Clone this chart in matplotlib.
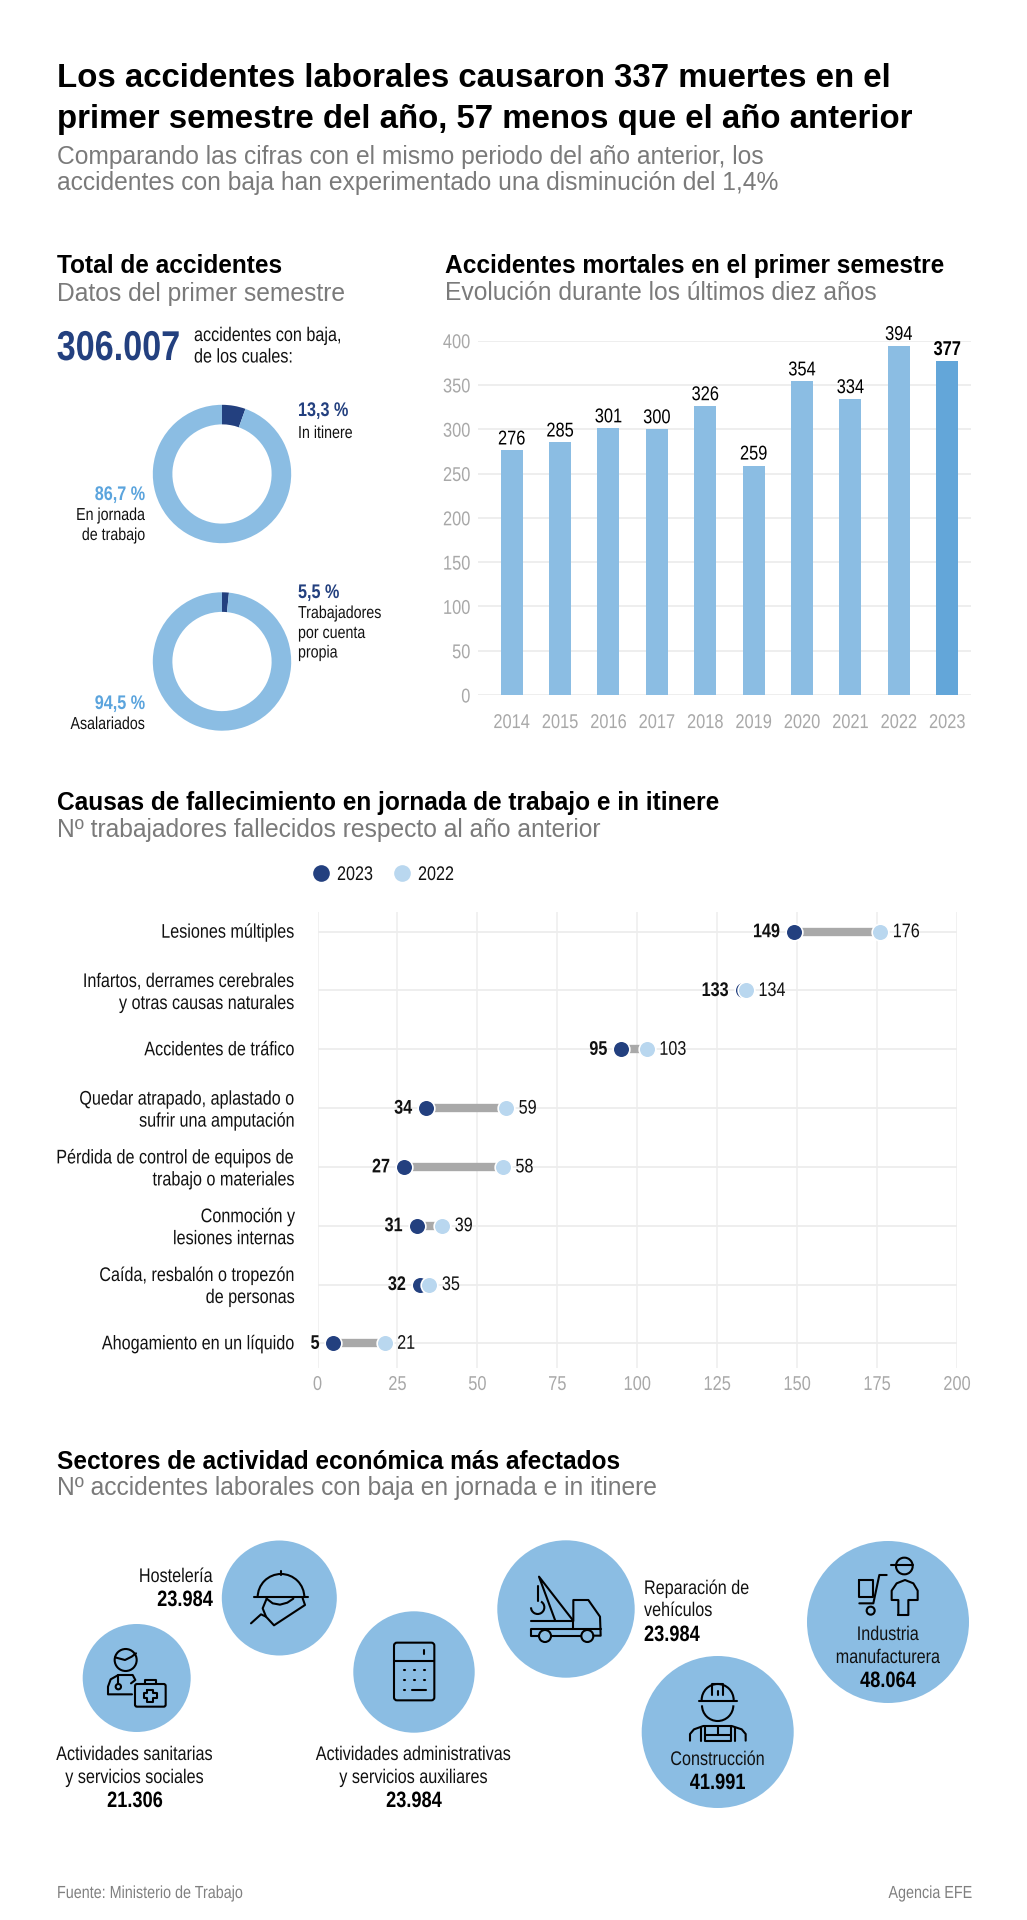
#!/usr/bin/env python3

import numpy as np
import matplotlib
matplotlib.use("Agg")
import matplotlib.pyplot as plt
from matplotlib.patches import Arc, Circle, FancyBboxPatch
from matplotlib.patheffects import AbstractPathEffect
from matplotlib.text import Text
from matplotlib.transforms import Affine2D

W, H = 1027, 1920
DARK = "#23407f"
BLUE = "#8bbde3"
BLUE_STRONG = "#63a6d9"
BLUE_TEXT = "#5ba4dd"
PALE = "#b9d7ef"
GREY_TXT = "#7a7a7a"
TICK = "#a8a8a8"
GRID = "#ededed"
INK = "#111111"
NARROW = 0.82

plt.rcParams["font.family"] = ["Liberation Sans", "DejaVu Sans"]

years = [2014, 2015, 2016, 2017, 2018, 2019, 2020, 2021, 2022, 2023]
fatal = [276, 285, 301, 300, 326, 259, 354, 334, 394, 377]
fatal_ticks = [0, 50, 100, 150, 200, 250, 300, 350, 400]

causes = [
    "Lesiones múltiples",
    "Infartos, derrames cerebrales\ny otras causas naturales",
    "Accidentes de tráfico",
    "Quedar atrapado, aplastado o\nsufrir una amputación",
    "Pérdida de control de equipos de\ntrabajo o materiales",
    "Conmoción y\nlesiones internas",
    "Caída, resbalón o tropezón\nde personas",
    "Ahogamiento en un líquido",
]
deaths_2023 = [149, 133, 95, 34, 27, 31, 32, 5]
deaths_2022 = [176, 134, 103, 59, 58, 39, 35, 21]
deaths_ticks = [0, 25, 50, 75, 100, 125, 150, 175, 200]

# the drawn wedges are narrower than the printed percentages
ring_itinere = [5.5, 94.5]
ring_autonomos = [1.6, 98.4]


class Squeeze(AbstractPathEffect):
    """No Arial Narrow here, so squeeze the glyphs around the text's anchor."""

    def __init__(self, text, sx):
        super().__init__()
        self.text = text
        self.sx = sx

    def draw_path(self, renderer, gc, tpath, affine, rgbFace=None):
        bb = self.text.get_window_extent()
        anchor = {"left": bb.x0, "right": bb.x1, "center": (bb.x0 + bb.x1) / 2}[self.text.get_ha()]
        sq = Affine2D().translate(-anchor, 0).scale(self.sx, 1).translate(anchor, 0)
        renderer.draw_path(gc, tpath, affine + sq, rgbFace)


def px_axes(x0, y0, x1, y1, **kw):
    return fig.add_axes([x0 / W, 1 - y1 / H, (x1 - x0) / W, (y1 - y0) / H], **kw)


def put(x, y, s, size=14.2, color=INK, bold=False, ha="left", gid=None):
    over.text(x, y, s, fontsize=size, color=color, ha=ha, va="baseline",
              fontweight="bold" if bold else "normal", gid=gid)


def head(x, y, s):
    put(x, y, s, size=17.65, color="black", bold=True, gid="wide")


def sub(x, y, s):
    put(x, y, s, size=17.75, color=GREY_TXT, gid="wide")


def ring(cx, cy, r, values):
    ax = px_axes(cx - r, cy - r, cx + r, cy + r)
    ax.pie(values, colors=[DARK, BLUE], startangle=90, counterclock=False, radius=1,
           wedgeprops={"width": 0.283})
    ax.set_xlim(-1, 1)
    ax.set_ylim(-1, 1)


fig = plt.figure(figsize=(W / 100, H / 100), dpi=100, facecolor="white")

over = fig.add_axes([0, 0, 1, 1], zorder=5)
over.set_xlim(0, W)
over.set_ylim(H, 0)
over.axis("off")
over.patch.set_alpha(0)

# Title block
put(57, 87, "Los accidentes laborales causaron 337 muertes en el", size=23.75, color="black", bold=True, gid="wide")
put(57, 128, "primer semestre del año, 57 menos que el año anterior", size=23.75, color="black", bold=True, gid="wide")
sub(57, 164, "Comparando las cifras con el mismo periodo del año anterior, los")
sub(57, 190, "accidentes con baja han experimentado una disminución del 1,4%")

# Total de accidentes
head(57, 273, "Total de accidentes")
sub(57, 300.5, "Datos del primer semestre")
put(180, 360, "306.007", size=30, color=DARK, bold=True, ha="right")
put(194, 341, "accidentes con baja,")
put(194, 362.5, "de los cuales:")

ring(222, 474, 69.2, ring_itinere)
ring(222, 661.5, 69.2, ring_autonomos)
put(298, 416, "13,3 %", color=DARK, bold=True)
put(298, 438, "In itinere", size=12.5)
put(145.3, 500, "86,7 %", color=BLUE_TEXT, bold=True, ha="right")
put(145.3, 520, "En jornada", size=12.5, ha="right")
put(145.3, 540, "de trabajo", size=12.5, ha="right")
put(298, 598, "5,5 %", color=DARK, bold=True)
put(298, 618, "Trabajadores", size=12.5)
put(298, 638, "por cuenta", size=12.5)
put(298, 657.5, "propia", size=12.5)
put(145.3, 709, "94,5 %", color=BLUE_TEXT, bold=True, ha="right")
put(145.3, 729, "Asalariados", size=12.5, ha="right")

# Bars
head(445, 273, "Accidentes mortales en el primer semestre")
sub(445, 300.5, "Evolución durante los últimos diez años")
ax = px_axes(478, 340.6, 970.7, 695)
colors = [BLUE] * 9 + [BLUE_STRONG]
ax.bar(range(len(years)), fatal, width=0.4546, color=colors, zorder=2)
ax.set_xlim(-0.696, 9.485)
ax.set_ylim(0, 400)
ax.set_yticks(fatal_ticks, fatal_ticks)
ax.set_xticks(range(len(years)), years)
ax.grid(axis="y", color=GRID, lw=1.3, zorder=0)
ax.tick_params(length=0, labelcolor=TICK, labelsize=14.4)
ax.tick_params(axis="x", pad=13)
ax.tick_params(axis="y", pad=5.5)
for s in ax.spines.values():
    s.set_visible(False)
for i, v in enumerate(fatal):
    ax.annotate(str(v), (i, v), xytext=(0, 4.3), textcoords="offset points", ha="center", va="baseline",
                fontsize=14.4, color="black", fontweight="bold" if i == 9 else "normal", clip_on=False)

# Dumbbell
head(57, 810, "Causas de fallecimiento en jornada de trabajo e in itinere")
sub(57, 837, "Nº trabajadores fallecidos respecto al año anterior")
over.plot([320.5], [873], "o", ms=12, color=DARK, mew=0)
put(337, 880, "2023")
over.plot([401.5], [873], "o", ms=12, color=PALE, mew=0)
put(418, 880, "2022")

ax = px_axes(317.5, 912, 957, 1368)
ypos = np.arange(len(causes))
ax.set_xlim(0, 200)
ax.set_ylim(7.42, -0.335)
ax.set_xticks(deaths_ticks, deaths_ticks)
ax.set_yticks(ypos, causes)
ax.grid(axis="x", color=GRID, lw=1.1, zorder=0)
ax.hlines(ypos, 0, 200, color=GRID, lw=1.3, zorder=0)
ax.tick_params(length=0)
ax.tick_params(axis="x", labelcolor=TICK, labelsize=14.4, pad=5)
ax.tick_params(axis="y", labelcolor=INK, labelsize=14.2, pad=16)
for label in ax.get_yticklabels():
    label.set_transform(label.get_transform() + Affine2D().translate(0, 1.5))
for s in ax.spines.values():
    s.set_visible(False)
ax.hlines(ypos, deaths_2023, deaths_2022, color="#a9a9a9", lw=6, zorder=2)
ax.plot(deaths_2023, ypos, "o", ms=12, color=DARK, mec="white", mew=1.2, zorder=3, clip_on=False, ls="none")
ax.plot(deaths_2022, ypos, "o", ms=12, color=PALE, mec="white", mew=1.2, zorder=4, clip_on=False, ls="none")
for i in ypos:
    ax.annotate(str(deaths_2023[i]), (deaths_2023[i], i), xytext=(-10, 0), textcoords="offset points",
                ha="right", va="center", fontsize=14.2, fontweight="bold", color=INK, zorder=6)
    ax.annotate(str(deaths_2022[i]), (deaths_2022[i], i), xytext=(9, 0), textcoords="offset points",
                ha="left", va="center", fontsize=14.2, color=INK, zorder=6)

# Sectors
head(57, 1469, "Sectores de actividad económica más afectados")
sub(57, 1495, "Nº accidentes laborales con baja en jornada e in itinere")

circles = [(279.3, 1598, 57.5), (136.7, 1678, 54), (414, 1672, 60.7),
           (566, 1609, 68.7), (717.7, 1732, 76), (888, 1622, 81)]
for cx, cy, r in circles:
    over.add_patch(Circle((cx, cy), r, fc=BLUE, ec="none", zorder=1))

put(213, 1582, "Hostelería", ha="right")
put(213, 1606, "23.984", size=16, bold=True, ha="right", color="black")
put(135, 1760, "Actividades sanitarias", ha="center")
put(135, 1783, "y servicios sociales", ha="center")
put(135, 1807, "21.306", size=16, bold=True, ha="center", color="black")
put(414, 1760, "Actividades administrativas", ha="center")
put(414, 1783, "y servicios auxiliares", ha="center")
put(414, 1807, "23.984", size=16, bold=True, ha="center", color="black")
put(644, 1594, "Reparación de")
put(644, 1616, "vehículos")
put(644, 1641, "23.984", size=16, bold=True, color="black")
put(717.7, 1765, "Construcción", ha="center")
put(717.7, 1789, "41.991", size=16, bold=True, ha="center", color="black")
put(888, 1640, "Industria", ha="center")
put(888, 1663, "manufacturera", ha="center")
put(888, 1687, "48.064", size=16, bold=True, ha="center", color="black")

put(57, 1898, "Fuente: Ministerio de Trabajo", size=12.6, color="#808080")
put(972, 1898, "Agencia EFE", size=12.6, color="#808080", ha="right")


LW = 1.5


def icon(ox, oy, lines=(), rings=(), arcs=(), boxes=()):
    kw = dict(color="black", lw=LW, zorder=3)
    for pts in lines:
        xs = [ox + p[0] / 3 for p in pts]
        ys = [oy + p[1] / 3 for p in pts]
        over.plot(xs, ys, solid_capstyle="round", solid_joinstyle="round", **kw)
    for x, y, r in rings:
        over.add_patch(Circle((ox + x / 3, oy + y / 3), r / 3, fc="none", ec="black", lw=LW, zorder=3))
    for x, y, r, a0, a1 in arcs:
        # y axis of the overlay points down, so angles run clockwise on screen
        over.add_patch(Arc((ox + x / 3, oy + y / 3), 2 * r / 3, 2 * r / 3, theta1=a0, theta2=a1,
                           ec="black", lw=LW, zorder=3))
    for x0, y0, x1, y1, rad in boxes:
        over.add_patch(FancyBboxPatch((ox + x0 / 3, oy + y0 / 3), (x1 - x0) / 3, (y1 - y0) / 3,
                                      boxstyle=f"round,pad=0,rounding_size={rad}",
                                      fc="none", ec="black", lw=LW, zorder=3))


# Hosteleria
icon(50, 1520,
     lines=[[(693, 152), (693, 165)], [(613, 232), (773, 232)],
            [(603, 310), (633, 283), (648, 290), (672, 316), (765, 255), (758, 235)],
            [(648, 290), (638, 265), (650, 236)],
            [(650, 236), (668, 250), (690, 254), (712, 248), (730, 236)]],
     arcs=[(693, 232, 70, 180, 360)])
# Sanitarias
icon(50, 1520,
     rings=[(227, 420, 33), (205, 500, 8)],
     lines=[[(195, 412), (225, 420), (245, 410), (258, 400)],
            [(246, 523), (174, 523), (174, 500), (182, 478), (205, 465), (248, 465), (256, 480), (243, 490)],
            [(205, 465), (205, 492)],
            [(285, 492), (285, 479), (317, 479), (317, 492)],
            [(292, 510), (309, 510), (309, 519), (320, 519), (320, 535), (309, 535), (309, 545),
             (292, 545), (292, 535), (281, 535), (281, 519), (292, 519), (292, 510)]],
     boxes=[(255, 492, 347, 560, 2)])
# Administrativas
icon(50, 1520,
     lines=[[(1032, 422), (1153, 422)], [(1122, 390), (1122, 401)], [(1085, 510), (1127, 510)],
            *[[(x, y), (x + 2, y)] for x in (1062, 1092, 1122) for y in (451, 481)],
            [(1062, 510), (1064, 510)]],
     boxes=[(1032, 368, 1153, 541, 3)])
# Reparacion
icon(490, 1520,
     lines=[[(195, 300), (147, 170), (248, 300)],
            [(143, 198), (143, 243)],
            [(250, 303), (250, 240), (295, 240), (330, 290), (332, 347), (310, 347)],
            [(124, 303), (250, 303), (250, 328), (124, 328), (124, 347), (146, 347)],
            [(184, 347), (273, 347)], [(250, 328), (332, 328)]],
     rings=[(165, 348, 18), (292, 348, 18)],
     arcs=[(143, 262, 20, 300, 180 + 360)])
# Construccion
icon(490, 1520,
     lines=[[(627, 542), (740, 542)], [(665, 525), (665, 492), (700, 492), (700, 525)], [(683, 512), (683, 526)],
            [(600, 662), (600, 642), (612, 628), (640, 618), (725, 618), (755, 628), (767, 642), (767, 662)],
            [(645, 618), (645, 662), (722, 662), (722, 618)], [(645, 645), (722, 645)],
            [(683, 618), (683, 645)], [(632, 625), (632, 662)], [(735, 625), (735, 662)]],
     arcs=[(683, 540, 48, 180, 360), (683, 556, 47, 0, 180)])
# Industria
icon(490, 1520,
     rings=[(1142, 272, 12)],
     lines=[[(1203, 135), (1270, 135)],
            [(1225, 285), (1225, 240), (1205, 240), (1205, 212), (1220, 190), (1245, 180), (1270, 190),
             (1283, 212), (1283, 240), (1255, 240), (1255, 285), (1225, 285)],
            [(1190, 165), (1168, 165), (1150, 250), (1108, 250)],
            [(1108, 180), (1148, 180), (1148, 232), (1108, 232), (1108, 180)]],
     arcs=[(1243, 138, 25, 180, 540)])

for t in fig.findobj(Text):
    if t.get_gid() != "wide" and t.get_text():
        t.set_path_effects([Squeeze(t, NARROW)])

fig.savefig("out.png", dpi=100)
